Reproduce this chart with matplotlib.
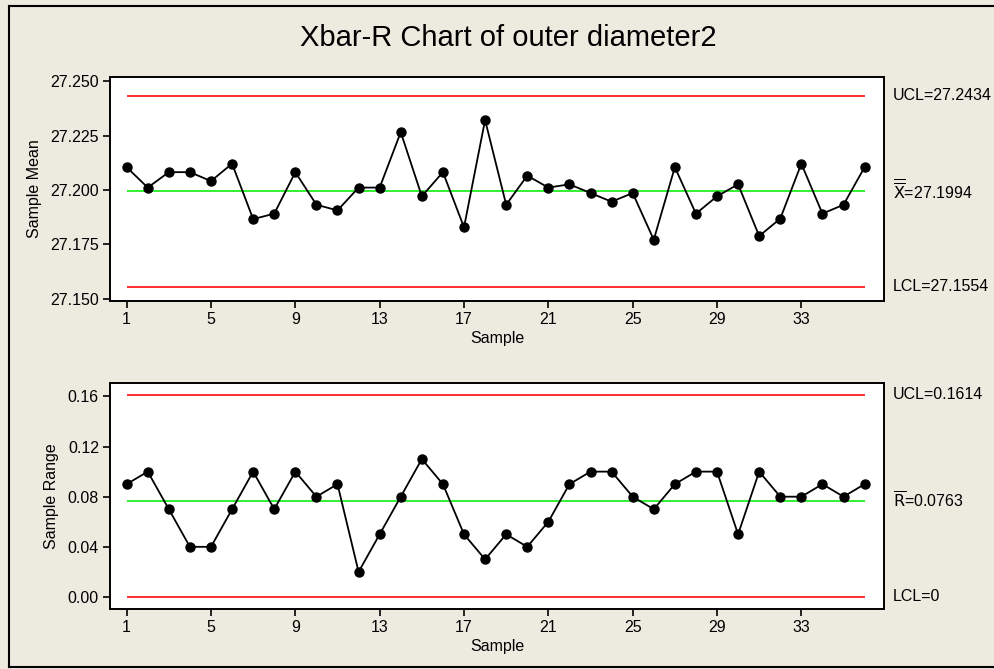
import numpy as np
import matplotlib.pyplot as plt
from matplotlib.lines import Line2D

# Dados
amostras = np.arange(1, 37)
medias = [27.2105, 27.2011, 27.2082, 27.2082, 27.2041, 27.2121, 27.1866, 27.1891,
          27.2082, 27.1932, 27.1906, 27.2011, 27.2011, 27.2266, 27.1971, 27.2082,
          27.1828, 27.2322, 27.1932, 27.2066, 27.2011, 27.2026, 27.1986, 27.1946,
          27.1986, 27.1771, 27.2105, 27.1891, 27.1971, 27.2026, 27.1788, 27.1868,
          27.2121, 27.1891, 27.1932, 27.2105]
amplitudes = [0.09, 0.10, 0.07, 0.04, 0.04, 0.07, 0.10, 0.07, 0.10, 0.08, 0.09, 0.02,
              0.05, 0.08, 0.11, 0.09, 0.05, 0.03, 0.05, 0.04, 0.06, 0.09, 0.10, 0.10,
              0.08, 0.07, 0.09, 0.10, 0.10, 0.05, 0.10, 0.08, 0.08, 0.09, 0.08, 0.09]

xbar_ucl, xbar_cl, xbar_lcl = 27.2434, 27.1994, 27.1554
r_ucl, r_cl, r_lcl = 0.1614, 0.0763, 0.0

xticks = [1, 5, 9, 13, 17, 21, 25, 29, 33]
yticks_media = [27.150, 27.175, 27.200, 27.225, 27.250]
yticks_amp = [0.00, 0.04, 0.08, 0.12, 0.16]

fundo = '#EDEAE0'
plt.rcParams['font.family'] = ['Liberation Sans', 'DejaVu Sans']

W, H = 995, 669
fig = plt.figure(figsize=(W / 100, H / 100), dpi=100, facecolor=fundo)

def caixa(x0, y0, x1, y1):
    # coordenadas em pixels (origem no topo) -> fração da figura
    return [x0 / W, 1 - y1 / H, (x1 - x0) / W, (y1 - y0) / H]

ax1 = fig.add_axes(caixa(110, 77, 884, 301))
ax2 = fig.add_axes(caixa(110, 383, 884, 609))

def painel(ax, y, ucl, cl, lcl, ylim, yticks, fmt, ylabel, rotulos):
    ax.plot(amostras, y, color='black', lw=1.3, marker='o', ms=6.5, zorder=3)
    ax.hlines([ucl, lcl], amostras[0], amostras[-1], color='#FF2020', lw=1.3, zorder=2)
    ax.hlines(cl, amostras[0], amostras[-1], color='#22EE22', lw=1.3, zorder=2)
    ax.set_xlim(0.21, 36.92)
    ax.set_ylim(*ylim)
    ax.set_xticks(xticks)
    ax.set_yticks(yticks)
    ax.set_yticklabels([fmt.format(v) for v in yticks])
    ax.tick_params(direction='out', length=5, width=1.2, labelsize=11.5, pad=3)
    for s in ax.spines.values():
        s.set_linewidth(1.4)
    ax.set_xlabel('Sample', fontsize=11.5, labelpad=3)
    ax.set_ylabel(ylabel, fontsize=11.5, labelpad=6)
    for valor, texto in zip([ucl, cl, lcl], rotulos):
        ax.text(37.35, valor, texto, fontsize=11.5, va='center', ha='left')

painel(ax1, medias, xbar_ucl, xbar_cl, xbar_lcl, (27.1489, 27.2520), yticks_media,
       '{:.3f}', 'Sample Mean',
       [f'UCL={xbar_ucl:.4f}', r'$\overline{\overline{\mathrm{X}}}$' + f'={xbar_cl:.4f}',
        f'LCL={xbar_lcl:.4f}'])
painel(ax2, amplitudes, r_ucl, r_cl, r_lcl, (-0.0096, 0.1707), yticks_amp,
       '{:.2f}', 'Sample Range',
       [f'UCL={r_ucl:.4f}', r'$\overline{\mathrm{R}}$' + f'={r_cl:.4f}', 'LCL=0'])

fig.text(508 / W, 1 - 38 / H, 'Xbar-R Chart of outer diameter2', fontsize=21,
         ha='center', va='center')

# moldura da janela
for xs, ys in [([9, 9], [6, 667]), ([9, W], [6, 6]), ([9, W], [667, 667])]:
    fig.add_artist(Line2D([x / W for x in xs], [1 - y / H for y in ys],
                          color='black', lw=1.5))

fig.savefig('out.png', dpi=100, facecolor=fundo)
